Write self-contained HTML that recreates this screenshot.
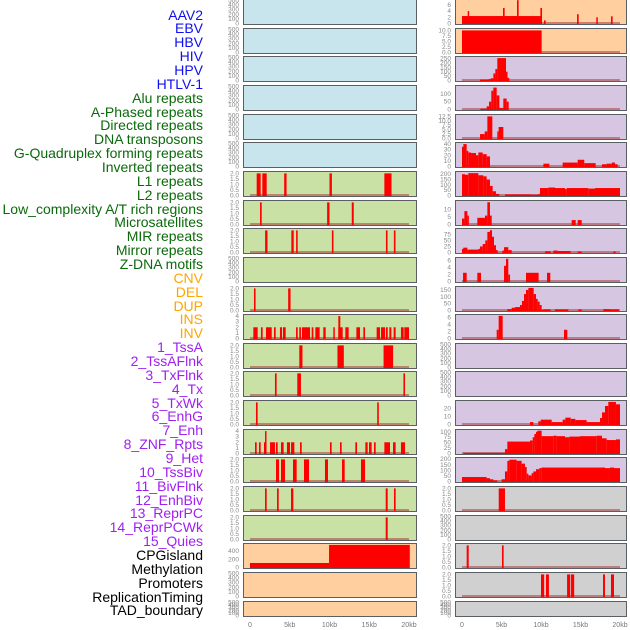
<!DOCTYPE html>
<html><head><meta charset="utf-8"><style>
body{margin:0;background:#fff;width:630px;height:630px;overflow:hidden}
#lbl div{position:absolute;right:427px;font:14px "Liberation Sans",sans-serif;white-space:nowrap;line-height:14px}
</style></head><body>
<div id="lbl"></div>
<svg id="chart" width="630" height="630" style="position:absolute;left:0;top:0"></svg>
<script>
const trackLabels=["AAV2","EBV","HBV","HIV","HPV","HTLV-1","Alu repeats","A-Phased repeats","Directed repeats","DNA transposons","G-Quadruplex forming repeats","Inverted repeats","L1 repeats","L2 repeats","Low_complexity A/T rich regions","Microsatellites","MIR repeats","Mirror repeats","Z-DNA motifs","CNV","DEL","DUP","INS","INV","1_TssA","2_TssAFlnk","3_TxFlnk","4_Tx","5_TxWk","6_EnhG","7_Enh","8_ZNF_Rpts","9_Het","10_TssBiv","11_BivFlnk","12_EnhBiv","13_ReprPC","14_ReprPCWk","15_Quies","CPGisland","Methylation","Promoters","ReplicationTiming","TAD_boundary"];
const labelGroups=[6,13,5,15,5];
const groupColors=["#1010ee","#0a6a0a","#ffa500","#a020f0","#000"];
const xTicks=[0,5,10,15,20];
const xTickLabels=["0","5kb","10kb","15kb","20kb"];
const T500=[0,100,200,300,400,500], T2=[0,0.5,1,1.5,2];
// middle column intervals [startKb,endKb,value]
const m6=[[0.84,1.34,2],[1.55,2.1,2],[4.3,4.6,2],[10,10.3,2],[16.9,17.8,2]];
const m7=[[1.26,1.47,2],[9.7,10,2],[12.8,13.05,2]];
const m8=[[1.9,2.2,2],[5.2,5.5,2],[5.8,6.0,2],[10.3,10.5,2],[17.1,17.3,2],[18.1,18.3,2]];
const m10=[[0.5,0.7,2],[4.8,5.1,2]];
const m11=[[0.42,0.96,2],[1.38,1.59,2],[2.01,2.73,2],[3.02,3.23,2],[3.77,4.03,2],[4.15,4.49,2],[5.79,6.0,2],[6.2,6.41,2],[6.54,7.55,2],[7.76,7.97,2],[8.22,8.76,2],[9.22,9.52,2],[10.48,10.65,2],[11.11,11.66,2],[11.11,11.36,4],[11.99,12.41,2],[13.38,13.84,2],[14.26,14.47,2],[15.93,16.35,2],[16.48,16.98,2],[17.1,17.32,2],[17.53,17.78,2],[18.07,18.32,2],[18.99,19.33,2],[19.41,20,2]];
const m12=[[6.2,6.6,2],[11.0,11.8,2],[16.8,18.0,2]];
const m13=[[3.14,3.35,2],[5.95,6.41,2],[19.3,19.5,2]];
const m14=[[0.75,0.96,2],[16.0,16.2,2]];
const m15=[[0.63,0.84,2],[1.13,1.34,2],[1.76,2.05,2],[1.89,2.05,4],[2.52,3.14,2],[3.27,3.48,2],[3.9,4.23,2],[4.65,5.03,2],[5.16,5.58,2],[6.29,6.5,2],[10.06,10.27,2],[11.32,11.53,2],[13.25,13.46,2],[14.51,14.8,2],[14.97,15.3,2],[15.6,15.81,2],[16.9,17.61,2],[17.99,18.32,2],[18.99,19.5,2]];
const m16=[[3.27,3.65,2],[3.9,4.4,2],[5.41,5.87,2],[6.79,7.42,2],[9.43,9.81,2],[11.57,11.91,2],[13.96,14.47,2]];
const m17=[[1.89,2.1,2],[3.4,3.61,2],[5.16,5.45,2],[17.07,17.32,2],[18.11,18.32,2]];
const m18=[[17.07,17.32,2]];
const m19=[[0,9.94,110],[9.94,20.1,550]];
// right column
const r0=[[0,10.08,2.4],[0.72,0.89,4],[5.19,5.4,5],[6.96,7.17,7.5],[9.92,10.13,5],[10.38,10.59,1],[14.56,14.77,3],[17.0,17.17,2],[18.86,19.07,2.3]];
const r1=[[0,10.08,10]];
const r2=[[2.28,3.33,10],[3.33,3.63,15],[3.63,3.97,25],[3.97,4.22,80],[4.22,4.47,130],[4.47,5.57,255],[5.57,5.74,100],[5.74,5.99,30]];
const r3=[[2.32,3.12,5],[3.12,3.42,20],[3.42,3.71,50],[3.71,3.97,120],[3.97,4.39,140],[4.39,4.73,90],[4.73,5.23,10],[5.23,5.65,70],[5.65,5.91,50]];
const r4=[[2.28,2.87,2.5],[2.87,3.21,4],[3.21,3.84,12.5],[4.47,4.64,4],[4.64,5.23,6.5]];
const r5=[[0,0.17,35],[0.17,0.59,40],[0.59,0.8,28],[0.8,1.14,25],[1.14,1.77,24],[1.77,2.07,20],[2.07,2.62,25],[2.62,3.12,22],[3.12,3.54,18],[10.3,11.06,5],[12.74,14.64,7],[14.64,15.48,12],[15.48,16.92,6],[17.72,18.31,4],[18.31,18.95,5],[18.95,19.37,7],[19.37,19.7,4]];
const r6=[[0,0.38,200],[0.38,0.8,195],[0.8,2.07,210],[2.07,2.7,190],[2.7,3.12,180],[3.12,3.54,150],[3.54,3.88,90],[3.88,4.3,40],[4.3,4.73,15],[5.44,8.82,10],[8.82,9.66,8],[9.66,9.87,14],[9.87,10.93,70],[10.93,11.77,75],[11.77,13.04,70],[13.04,13.25,60],[13.25,15.99,70],[15.99,16.84,65],[16.84,20,70]];
const r7=[[0,0.3,4],[0.3,0.68,9],[0.68,0.8,6],[1.94,2.91,4.5],[2.91,3.21,6],[3.21,3.54,15],[3.54,3.76,6],[13.88,14.39,3],[14.64,15.15,3]];
const r8=[[0,0.17,15],[0.17,0.68,20],[0.68,2.07,12],[2.07,2.28,15],[2.28,2.62,25],[2.62,2.95,35],[2.95,3.21,50],[3.21,3.54,85],[3.54,3.8,92],[3.8,4.05,65],[4.05,4.3,30],[4.3,4.51,10],[5.11,5.32,8],[5.32,5.86,22],[5.86,6.29,10],[10.51,11.22,5],[11.56,12.11,8],[12.11,13.76,6],[14.64,15.15,4],[19.16,19.45,4]];
const r9=[[0.13,0.59,2.5],[1.94,2.41,2.5],[5.32,5.57,4.5],[5.57,5.86,6.5],[5.86,6.08,2],[8.1,9.7,2.5],[10.76,11.18,2.5]];
const r10=[[5.74,6.29,10],[6.29,6.71,20],[6.71,7.34,25],[7.34,7.59,40],[7.59,7.85,70],[7.85,8.1,120],[8.1,8.4,150],[8.4,9.07,165],[9.07,9.37,120],[9.37,9.58,85],[9.58,9.83,65],[9.83,10.08,40],[10.08,10.3,5],[10.3,11.22,8],[11.77,13.46,8],[14.73,15.15,8],[17.89,18.73,10],[18.73,19.87,8]];
const r11=[[4.39,4.64,2.5],[4.64,5.15,6.5],[12.91,13.33,2.5]];
const r14=[[8.61,9.03,3],[9.66,9.96,4],[9.96,10.51,6],[10.51,11.35,6],[11.35,12.74,3],[12.74,13.08,6],[13.08,13.76,8.5],[13.76,14.35,7],[14.35,15.78,5.5],[15.78,17.47,3],[17.47,17.72,8],[17.72,18.1,15],[18.1,18.52,23],[18.52,19.49,28],[19.49,20,25]];
const r15=[[0.17,5.44,3],[5.44,5.74,20],[5.74,8.61,55],[8.61,8.95,60],[8.95,9.16,75],[9.16,9.37,90],[9.37,9.54,100],[9.54,10.08,105],[10.08,11.56,80],[11.56,11.98,82],[11.98,13.04,80],[13.04,13.59,75],[13.59,14.94,78],[14.94,17.05,80],[17.05,17.72,82],[17.72,18.31,70],[18.31,19.49,62],[19.49,20,65]];
const r16=[[0,3.12,40],[3.12,3.54,30],[3.54,3.97,20],[3.97,4.47,10],[5.02,5.44,20],[5.44,5.74,90],[5.74,5.99,185],[5.99,6.92,195],[6.92,7.55,185],[7.55,7.97,160],[7.97,8.19,130],[8.19,8.4,70],[8.4,8.82,55],[8.82,9.03,75],[9.03,9.37,90],[9.37,9.79,110],[9.79,10.08,120],[10.08,18.1,125],[18.1,18.73,120],[18.73,19.24,125],[19.24,20,120]];
const r17=[[4.65,5.44,2]];
const r19=[[0.59,0.85,2],[5.06,5.27,2]];
const r20=[[10.0,10.4,2],[10.63,11.0,2],[13.3,13.7,2],[13.8,14.2,2],[17.85,18.1,2],[18.86,19.24,2]];

const BLUE="#c8e4ec",GREEN="#c9e1a4",ORANGE="#ffcf9f",PURPLE="#d6c6e2",GRAY="#d0d0d0";
const mid=[];const right=[];
for(let i=0;i<22;i++){
  mid.push({bg:i<6?BLUE:(i<19?GREEN:ORANGE),data:null,max:500,ticks:T500});
  right.push({bg:i<2?ORANGE:(i<17?PURPLE:GRAY),data:null,max:500,ticks:T500});
}
[[6,m6],[7,m7],[8,m8],[10,m10],[12,m12],[13,m13],[14,m14],[16,m16],[17,m17],[18,m18]].forEach(([i,d])=>{mid[i].data=d;mid[i].max=2.08;mid[i].ticks=T2;});
[[11,m11],[15,m15]].forEach(([i,d])=>{mid[i].data=d;mid[i].max=4.1;mid[i].ticks=[0,1,2,3,4];});
mid[19].data=m19;mid[19].max=560;mid[19].ticks=[0,200,400];
const rspec=[[0,r0,7.4,[0,2,4,6]],[1,r1,10.4,[0,2.5,5,7.5,10]],[2,r2,262,[0,50,100,150,200,250]],[3,r3,147,[0,50,100]],[4,r4,13,[0,2.5,5,7.5,10,12.5]],[5,r5,41,[0,10,20,30,40]],[6,r6,216,[0,50,100,150,200]],[7,r7,15.5,[0,5,10]],[8,r8,95,[0,25,50,75]],[9,r9,6.6,[0,2,4,6]],[10,r10,168,[0,50,100,150]],[11,r11,6.6,[0,2,4,6]],[14,r14,28.5,[0,10,20]],[15,r15,106,[0,25,50,75,100]],[16,r16,206,[0,50,100,150,200]],[17,r17,2.08,T2],[19,r19,2.08,T2],[20,r20,2.08,T2]];
rspec.forEach(([i,d,m,t])=>{right[i].data=d;right[i].max=m;right[i].ticks=t;});

const NS="http://www.w3.org/2000/svg";const svg=document.getElementById('chart');
function mk(tag,attrs,parent){const e=document.createElementNS(NS,tag);for(const k in attrs)e.setAttribute(k,attrs[k]);(parent||svg).appendChild(e);return e;}
function fmt(v,ticks){const dec=ticks.some(t=>t%1!==0)||(ticks[ticks.length-1]<=2);return dec?v.toFixed(1):String(v);}
const cols=[{panels:mid,left:243,right:416,x0:250,x20:409,name:'middle'},{panels:right,left:455,right:626,x0:462,x20:620,name:'right'}];
cols.forEach(c=>{
  const xs=kb=>c.x0+(c.x20-c.x0)*kb/20;
  c.panels.forEach((p,i)=>{
    const top=Math.round(28.65*i)-0.5;const h=i===21?15:25;const bot=top+h;
    const g=mk('g',{});
    
    
    mk('rect',{x:c.left+0.5,y:top,width:c.right-c.left,height:h,fill:p.bg},g);
    const ys=v=>bot-1-(v/p.max)*(h-2);
    if(p.data){
      mk('line',{x1:xs(0),x2:xs(20),y1:bot-1.5,y2:bot-1.5,stroke:'rgba(170,60,60,0.55)','stroke-width':2},g);
      p.data.forEach(d=>{
        const x1=xs(d[0]),x2=Math.max(xs(d[1]),x1+1.5);
        const r=mk('rect',{x:x1,y:ys(d[2]),width:x2-x1,height:bot-ys(d[2]),fill:'#ff0000'},g);
        
        
      });
    }
    mk('rect',{x:c.left+0.5,y:top,width:c.right-c.left,height:h,fill:'none',stroke:'#5a5f63','stroke-width':1},g);
    p.ticks.forEach(t=>{
      const tx=mk('text',{x:c.left-4,y:ys(t)+2,'text-anchor':'end','font-size':'6.5','font-family':'Liberation Sans, sans-serif',fill:'#888'},g);
      tx.textContent=fmt(t,p.ticks);
    });
  });
  xTicks.forEach((t,k)=>{
    const tx=mk('text',{x:xs(t),y:627,'text-anchor':'middle','font-size':'7','font-family':'Liberation Sans, sans-serif',fill:'#777'});
    
    
    tx.textContent=xTickLabels[k];
  });
});
const lbl=document.getElementById('lbl');let gi=0,cnt=0;
trackLabels.forEach((t,i)=>{
  const d=document.createElement('div');
  
  
  d.textContent=t;d.style.top=(15+i*13.86-7.5)+'px';
  d.style.color=groupColors[gi];cnt++;if(cnt>=labelGroups[gi]){gi++;cnt=0;}
  lbl.appendChild(d);
});
</script>
</body></html>
